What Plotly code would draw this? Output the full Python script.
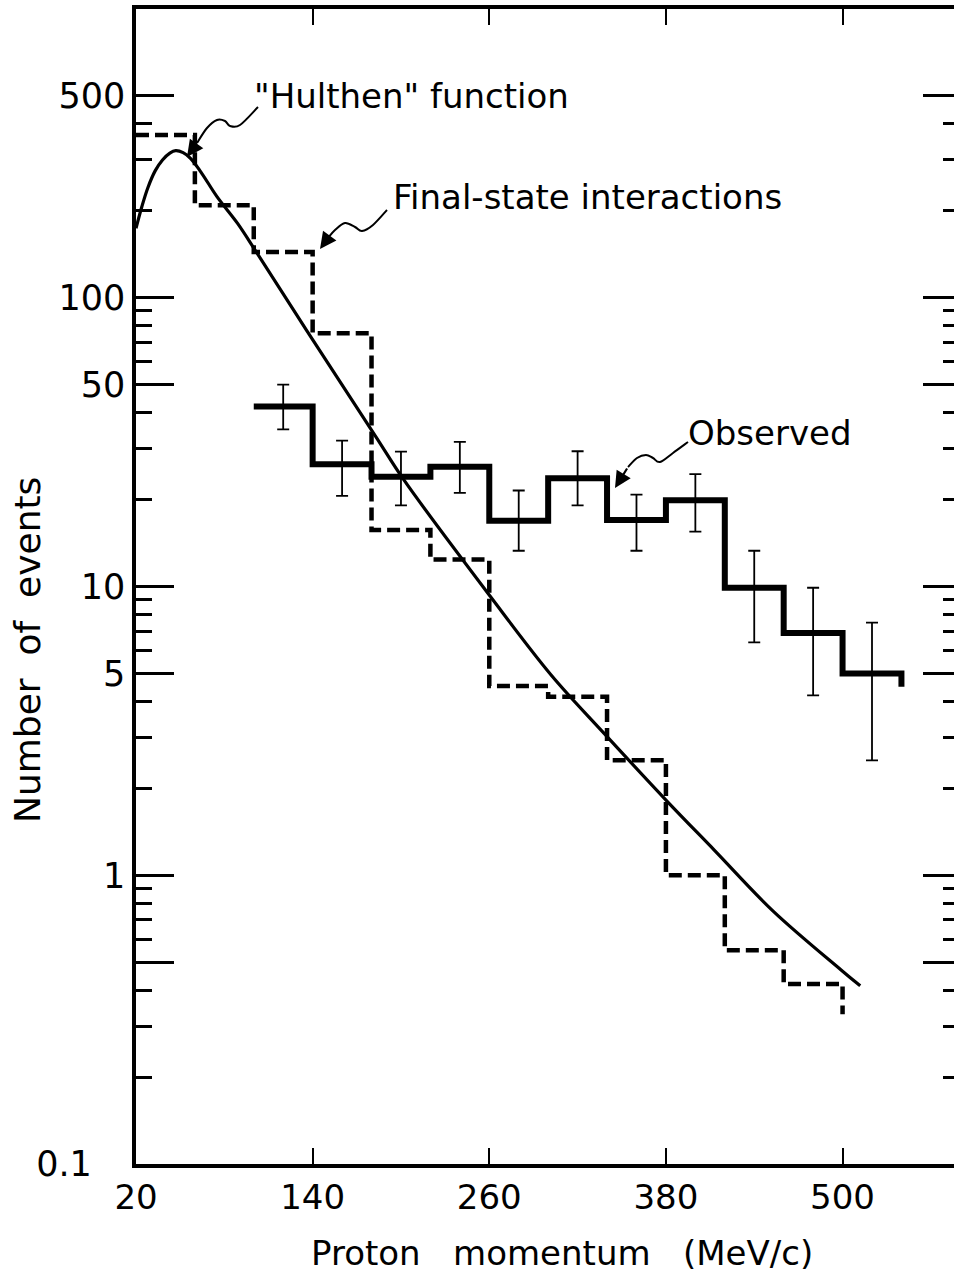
import plotly.graph_objects as go

# --- data -------------------------------------------------------------
# "Hulthen" function, sampled along the curve (MeV/c, events)
hulthen_p = [20, 24, 28, 33, 38, 43, 47, 52, 57, 64, 75, 89, 101, 136, 183, 202, 261, 302, 338, 381, 413, 453, 499, 512]
hulthen_n = [174, 207, 240, 275, 300, 317, 323, 318, 304, 273, 224, 181, 146, 77, 33, 23.4, 9.2, 4.94, 3.1, 1.8, 1.22, 0.75, 0.47, 0.414]

# Final-state interactions histogram (40 MeV/c bins)
fsi_edges = [20, 60, 100, 140, 180, 220, 260, 300, 340, 380, 420, 460, 500]
fsi_counts = [366, 209, 144, 75.3, 15.7, 12.4, 4.52, 4.15, 2.5, 1.0, 0.55, 0.42]
fsi_tail = 0.33

# Observed histogram with error bars
obs_edges = [100, 140, 180, 220, 260, 300, 340, 380, 420, 460, 500, 540]
obs_counts = [42, 26.5, 24, 26, 16.9, 23.7, 17, 19.9, 9.9, 6.9, 5.0]
obs_hi = [50, 32, 29.3, 31.7, 21.5, 29.4, 20.8, 24.5, 13.3, 9.9, 7.5]
obs_lo = [35, 20.6, 19.1, 21.1, 13.3, 19.1, 13.3, 15.5, 6.4, 4.2, 2.5]
obs_tail = 4.5

# axis ticks
x_ticks = [20, 140, 260, 380, 500]
y_major = [0.1, 0.5, 1, 5, 10, 50, 100, 500]
y_major_text = ["0.1\u00a0\u00a0\u00a0", "", "1", "5", "10", "50", "100", "500"]
y_minor = [0.2, 0.3, 0.4, 0.6, 0.7, 0.8, 0.9,
           2, 3, 4, 6, 7, 8, 9,
           20, 30, 40, 60, 70, 80, 90,
           200, 300, 400]

# --- geometry ---------------------------------------------------------
W, H = 954, 1285
ML, MR, MT, MB = 136, 0, 9, 121
PW, PH = W - ML - MR, H - MT - MB
BOTTOM = H - MB
FONT = "DejaVu Sans"


def paper(x, y):
    """pixel position -> paper coordinates"""
    return (x - ML) / PW, (BOTTOM - y) / PH


def wavy_path(pts):
    """smooth Catmull-Rom curve through pixel points, as an SVG path in paper units"""
    n = len(pts)
    segs = []
    x0, y0 = paper(*pts[0])
    segs.append(f"M {x0:.5f},{y0:.5f}")
    for i in range(n - 1):
        p0 = pts[i - 1] if i > 0 else pts[i]
        p1 = pts[i]
        p2 = pts[i + 1]
        p3 = pts[i + 2] if i + 2 < n else pts[i + 1]
        c1 = (p1[0] + (p2[0] - p0[0]) / 6, p1[1] + (p2[1] - p0[1]) / 6)
        c2 = (p2[0] - (p3[0] - p1[0]) / 6, p2[1] - (p3[1] - p1[1]) / 6)
        a, b, c = paper(*c1), paper(*c2), paper(*p2)
        segs.append(f"C {a[0]:.5f},{a[1]:.5f} {b[0]:.5f},{b[1]:.5f} {c[0]:.5f},{c[1]:.5f}")
    return " ".join(segs)


fig = go.Figure()

# Hulthen curve
fig.add_trace(go.Scatter(
    x=hulthen_p, y=hulthen_n, mode="lines",
    line=dict(color="black", width=3.2, shape="spline", smoothing=1.0),
    hoverinfo="skip"))

# final-state interactions (dashed step histogram)
fig.add_trace(go.Scatter(
    x=fsi_edges, y=fsi_counts + [fsi_tail], mode="lines",
    line=dict(color="black", width=4.5, shape="hv", dash="13px,6px"),
    hoverinfo="skip"))

# observed (heavy step histogram)
fig.add_trace(go.Scatter(
    x=obs_edges, y=obs_counts + [obs_tail], mode="lines",
    line=dict(color="black", width=6, shape="hv"),
    hoverinfo="skip"))

# observed error bars at bin centres
centres = [(a + b) / 2 for a, b in zip(obs_edges[:-1], obs_edges[1:])]
fig.add_trace(go.Scatter(
    x=centres, y=obs_counts, mode="markers",
    marker=dict(size=1, color="rgba(0,0,0,0)"),
    error_y=dict(type="data", symmetric=False,
                 array=[h - v for h, v in zip(obs_hi, obs_counts)],
                 arrayminus=[v - l for v, l in zip(obs_counts, obs_lo)],
                 color="black", thickness=1.8, width=6),
    hoverinfo="skip"))

# placeholder so the right-hand tick axis is laid out
fig.add_trace(go.Scatter(x=[None], y=[None], yaxis="y2", mode="lines",
                         hoverinfo="skip", showlegend=False))

# --- leader lines and labels -----------------------------------------
leaders = [
    ([(258, 107), (240, 125), (230, 126), (225, 121), (217, 120), (207, 128), (197, 143)], (187, 157)),
    ([(387, 210), (373, 225), (362, 231), (355, 227), (345, 223), (335, 230), (328, 238)], (320, 249)),
    ([(688, 442), (673, 453), (660, 462), (653, 458), (646, 455), (637, 458), (628, 467)], (615, 488)),
]
shapes = []
annotations = []
for pts, tip in leaders:
    shapes.append(dict(type="path", xref="paper", yref="paper", path=wavy_path(pts),
                       line=dict(color="black", width=2)))
    tx, ty = paper(*tip)
    base = pts[-1]
    annotations.append(dict(xref="paper", yref="paper", x=tx, y=ty, text="",
                            showarrow=True, arrowhead=2, arrowsize=1.5, arrowwidth=2.2,
                            arrowcolor="black", ax=base[0] - tip[0], ay=base[1] - tip[1],
                            standoff=0))

labels = [
    ('"Hulthen" function', 411, 96),
    ("Final-state interactions", 587, 197),
    ("Observed", 770, 433),
]
for text, x, y in labels:
    px_, py_ = paper(x, y)
    annotations.append(dict(xref="paper", yref="paper", x=px_, y=py_, text=text,
                            showarrow=False, xanchor="center", yanchor="middle",
                            font=dict(family=FONT, size=34, color="black")))

# axis titles
tx, ty = paper(562, 1253)
annotations.append(dict(xref="paper", yref="paper", x=tx, y=ty,
                        text="Proton   momentum   (MeV/c)", showarrow=False,
                        xanchor="center", yanchor="middle",
                        font=dict(family=FONT, size=34, color="black")))
tx, ty = paper(28, 650)
annotations.append(dict(xref="paper", yref="paper", x=tx, y=ty,
                        text="Number  of  events", showarrow=False, textangle=-90,
                        xanchor="center", yanchor="middle",
                        font=dict(family=FONT, size=36, color="black")))

fig.update_layout(
    width=W, height=H,
    margin=dict(l=ML, r=MR, t=MT, b=MB, pad=0),
    plot_bgcolor="white", paper_bgcolor="white",
    showlegend=False,
    font=dict(family=FONT, size=34, color="black"),
    shapes=shapes, annotations=annotations,
    xaxis=dict(range=[20, 20 + PW / 1.472], showline=True, linewidth=3.5, linecolor="black",
               mirror="ticks", ticks="inside", ticklen=16, tickwidth=2, tickcolor="black",
               tickmode="array", tickvals=x_ticks, ticktext=[str(v) for v in x_ticks],
               showgrid=False, zeroline=False, tickfont=dict(family=FONT, size=34)),
    yaxis=dict(type="log", range=[-1, 3], showline=True, linewidth=3.5, linecolor="black",
               mirror=False, ticks="inside", ticklen=38, tickwidth=2.5, tickcolor="black",
               tickmode="array", tickvals=y_major, ticktext=y_major_text,
               minor=dict(tickmode="array", tickvals=y_minor, ticks="inside",
                          ticklen=16, tickwidth=2.5, tickcolor="black", showgrid=False),
               showgrid=False, zeroline=False, tickfont=dict(family=FONT, size=35)),
    yaxis2=dict(type="log", range=[-1, 3], overlaying="y", side="right",
                showline=False, ticks="inside", ticklen=31, tickwidth=2.5, tickcolor="black",
                tickmode="array", tickvals=y_major, showticklabels=False,
                minor=dict(tickmode="array", tickvals=y_minor, ticks="inside",
                           ticklen=11, tickwidth=2.5, tickcolor="black", showgrid=False),
                showgrid=False, zeroline=False),
)

fig.write_html("out.html")
